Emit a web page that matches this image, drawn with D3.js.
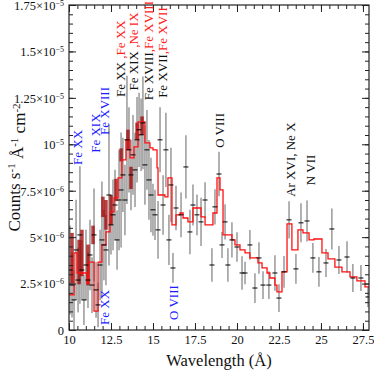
<!DOCTYPE html>
<html>
<head>
<meta charset="utf-8">
<script src="https://cdn.jsdelivr.net/npm/d3@7"></script>
<style>
  body { margin: 0; background: #fff; }
  svg text { font-family: "Liberation Serif", "Times New Roman", serif; }
</style>
</head>
<body>
<div id="chart"></div>
<script>
// Data (flux in units of 1e-6 counts s-1 A-1 cm-2)
const wl = [10.06, 10.18, 10.30, 10.42, 10.54, 10.65, 10.77, 10.89, 11.01, 11.13, 11.25, 11.37, 11.49, 11.61, 11.73,
  11.85, 11.96, 12.08, 12.20, 12.38, 12.50, 12.62, 12.74, 12.86, 12.98, 13.10, 13.21, 13.33, 13.45, 13.57, 13.69,
  13.81, 13.93, 14.05, 14.17, 14.29, 14.40, 14.52, 14.64, 14.76, 14.88, 15.00,
  15.12, 15.30, 15.42, 15.60, 15.77, 15.95, 16.07, 16.19, 16.37, 16.67, 16.96, 17.20, 17.38, 17.62, 17.86, 18.10,
  18.51, 18.69, 18.93, 19.11, 19.29, 19.46, 19.70, 20.00, 20.30, 20.48, 20.77, 21.07, 21.31, 21.55, 21.90, 22.26,
  22.50, 22.80, 23.10, 23.51, 23.81, 24.17, 24.52, 24.88, 25.30, 25.65, 26.07, 26.55, 26.90, 27.38, 27.80];
const flux = [3.23, 2.42, 1.62, 4.31, 2.69, 5.12, 3.23, 1.62, 3.50, 2.69, 4.04, 2.42, 5.12, 2.16, 1.35,
  3.50, 4.85, 4.58, 4.31, 7.27, 5.66, 6.20, 6.73, 4.85, 7.00, 7.54, 8.35, 7.00, 10.24, 9.70, 8.35,
  9.43, 8.62, 10.24, 10.78, 10.51, 11.15, 8.89, 9.70, 8.08, 7.27, 6.47,
  6.20, 5.39, 10.24, 6.73, 9.70, 4.85, 7.81, 3.34, 6.57, 6.20, 8.78, 5.28, 6.73, 6.20, 5.82, 7.00,
  3.50, 6.63, 8.40, 4.58, 5.82, 3.50, 4.85, 4.47, 3.07, 3.07, 4.58, 2.26, 3.88, 2.42, 2.42, 3.07,
  1.72, 3.13, 5.93, 3.29, 5.77, 5.87, 3.88, 3.13, 3.61, 5.44, 3.77, 3.93, 2.80, 2.80, 1.78];
const err = [2.4, 1.75, 1.6, 2.7, 1.75, 3.7, 1.6, 1.35, 1.9, 1.5, 1.9, 1.5, 2.5, 1.5, 1.2,
  1.9, 3.15, 1.9, 1.9, 3.8, 1.6, 1.9, 1.9, 1.6, 2.7, 3.1, 2.0, 1.9, 3.45, 2.3, 1.9,
  2.15, 2.0, 2.3, 2.0, 1.95, 2.5, 2.15, 2.15, 2.15, 2.0, 1.4,
  1.35, 1.55, 1.75, 1.6, 2.0, 1.35, 2.0, 0.8, 1.2, 1.2, 1.7, 1.2, 1.1, 1.1, 1.3, 0.95,
  0.9, 0.95, 1.2, 0.7, 0.95, 0.9, 0.95, 0.8, 0.9, 0.6, 0.8, 0.8, 0.85, 0.75, 0.75, 0.95,
  0.75, 0.85, 1.0, 0.8, 1.05, 1.1, 0.8, 0.8, 0.75, 1.1, 0.75, 0.85, 0.75, 0.7, 0.55];

// second (high resolution) spectrum, drawn as thick dark red bars
const wl2 = [10.18, 10.60, 10.77, 11.13, 11.43, 12.02, 12.20, 12.50, 12.80, 13.10, 13.51, 13.69, 14.05, 14.35];
const flux2 = [3.88, 3.66, 4.15, 3.50, 5.12, 6.63, 6.20, 6.47, 7.54, 9.43, 10.24, 8.19, 10.72, 11.0];
const err2 = [1.35, 1.2, 1.25, 1.1, 0.5, 0.55, 0.8, 0.8, 0.6, 0.35, 0.55, 0.6, 0.45, 0.5];

// model step line: bin edges and values
const modelEdges = [10.0, 10.30, 10.48, 11.07, 11.19, 11.49, 11.73, 11.96, 12.20, 12.44, 12.68, 12.92, 13.15, 13.39,
  13.63, 13.87, 14.11, 14.52, 14.82, 15.0, 15.24, 15.30, 15.71, 15.89, 16.13, 16.37, 16.61, 16.79, 17.08, 17.38,
  17.62, 17.86, 18.10, 18.57, 18.81, 18.99, 19.17, 19.70, 19.88, 20.18, 20.48, 20.77, 21.25, 21.49, 21.79, 21.96,
  22.26, 22.38, 22.68, 22.98, 23.27, 23.63, 23.93, 24.29, 24.58, 25.06, 25.42, 25.83, 26.25, 26.73, 27.14, 27.62, 27.86];
const modelFlux = [1.89, 4.15, 3.07, 2.53, 3.66, 1.02, 3.66, 4.58, 5.28, 6.36, 7.11, 8.19, 9.16, 10.24,
  9.27, 9.86, 11.21, 10.08, 9.81, 9.70, 8.73, 7.27, 7.17, 8.19, 5.66, 6.20, 6.30, 6.03, 5.82,
  6.57, 6.57, 6.09, 5.66, 6.30, 8.19, 7.54, 5.12, 4.85, 4.58, 4.31, 4.15, 3.88, 3.61, 3.34, 3.07,
  2.80, 2.42, 2.05, 3.13, 5.71, 4.31, 5.39, 5.23, 4.85, 4.90, 4.15, 3.83, 3.39, 3.13, 2.86, 2.64, 2.32];

// line identifications
const labelText = [
  [["Fe XX", "blue"]],
  [["Fe XIX", "blue"]],
  [["Fe XVIII", "blue"]],
  [["Fe XX ", "black"], [",Fe XX", "red"]],
  [["Fe XIX ", "black"], [",Ne IX", "red"]],
  [["Fe XVIII", "black"], [",Fe XVIII", "red"]],
  [["Fe XVII", "black"], [",Fe XVII", "red"]],
  [["Fe XX", "blue"]],
  [["O VIII", "blue"]],
  [["O VIII", "black"]],
  [["Ar XVI, Ne X", "black"]],
  [["N VII", "black"]]
];
const labelWl = [10.48, 11.55, 12.1, 13.04, 13.81, 14.70, 15.54, 12.08, 16.19, 18.93, 23.21, 24.40];
const labelFlux = [8.89, 9.54, 10.5, 12.55, 12.9, 12.37, 12.5, 0.27, 0.54, 9.81, 7.17, 7.8];

// axes ticks
const xTicks = [10, 12.5, 15, 17.5, 20, 22.5, 25, 27.5];
const yTicks = [0, 2.5, 5, 7.5, 10, 12.5, 15, 17.5];
const yTickMant = ["0", "2.5×10", "5×10", "7.5×10", "10", "1.25×10", "1.5×10", "1.75×10"];
const yTickExp = ["", "−6", "−6", "−6", "−5", "−5", "−5", "−5"];

// --- Chart ---
const W = 374, H = 374;
const margin = { top: 5, right: 5, bottom: 44, left: 69 };
const colors = { blue: "#1c1cff", red: "#ff1c1c", black: "#111" };

const svg = d3.select("#chart").append("svg")
  .attr("width", W).attr("height", H);

const x = d3.scaleLinear().domain([10, 27.86]).range([margin.left, W - margin.right]);
const y = d3.scaleLinear().domain([0, 17.5]).range([H - margin.bottom, margin.top]);

const plot = svg.append("g");
plot.append("clipPath").attr("id", "clip").append("rect")
  .attr("x", x.range()[0]).attr("y", y.range()[1])
  .attr("width", x.range()[1] - x.range()[0]).attr("height", y.range()[0] - y.range()[1]);
const inner = plot.append("g").attr("clip-path", "url(#clip)");

// gray error bars
const pts = wl.map((d, i) => ({ wl: d, f: flux[i], e: err[i] }));
inner.selectAll(".eb").data(pts).enter().append("line")
  .attr("x1", d => x(d.wl)).attr("x2", d => x(d.wl))
  .attr("y1", d => y(d.f - d.e)).attr("y2", d => y(d.f + d.e))
  .attr("stroke", "#444").attr("stroke-opacity", 0.55).attr("stroke-width", 1.5);

// dark red thick bars
const pts2 = wl2.map((d, i) => ({ wl: d, f: flux2[i], e: err2[i] }));
inner.selectAll(".eb2").data(pts2).enter().append("line")
  .attr("x1", d => x(d.wl)).attr("x2", d => x(d.wl))
  .attr("y1", d => y(d.f - d.e)).attr("y2", d => y(d.f + d.e))
  .attr("stroke", "#a00000").attr("stroke-opacity", 0.75).attr("stroke-width", 3.5);

// model
const stepPts = modelFlux.map((v, i) => [modelEdges[i], v]);
stepPts.push([modelEdges[modelEdges.length - 1], modelFlux[modelFlux.length - 1]]);
const line = d3.line().x(d => x(d[0])).y(d => y(d[1])).curve(d3.curveStepAfter);
inner.append("path").attr("d", line(stepPts))
  .attr("fill", "none").attr("stroke", "#ff1010").attr("stroke-width", 1.3);

// data point marks
inner.selectAll(".pt").data(pts).enter().append("line")
  .attr("x1", d => x(d.wl) - 2.5).attr("x2", d => x(d.wl) + 2.5)
  .attr("y1", d => y(d.f)).attr("y2", d => y(d.f))
  .attr("stroke", "#000").attr("stroke-width", 1);

// axes with inward ticks
const xMinor = d3.range(10, 27.86, 0.5);
const yMinor = d3.range(0, 17.51, 0.5);
const y0 = y(0), yTop = y(17.5), xL = x.range()[0], xR = x.range()[1];

function styleAxis(g) {
  g.select(".domain").remove();
  g.selectAll(".tick line").attr("stroke", "#222").attr("stroke-width", 1);
}

svg.append("g").attr("transform", `translate(0,${y0})`)
  .call(d3.axisBottom(x).tickValues(xMinor).tickSize(-4).tickFormat("")).call(styleAxis);
svg.append("g").attr("transform", `translate(0,${y0})`)
  .call(d3.axisBottom(x).tickValues(xTicks).tickSize(-7).tickPadding(5).tickFormat(d => d))
  .call(styleAxis)
  .selectAll("text").attr("font-size", 12.5).attr("fill", "#111");
svg.append("g").attr("transform", `translate(0,${yTop})`)
  .call(d3.axisTop(x).tickValues(xMinor).tickSize(-4).tickFormat("")).call(styleAxis);
svg.append("g").attr("transform", `translate(0,${yTop})`)
  .call(d3.axisTop(x).tickValues(xTicks).tickSize(-7).tickFormat("")).call(styleAxis);

svg.append("g").attr("transform", `translate(${xL},0)`)
  .call(d3.axisLeft(y).tickValues(yMinor).tickSize(-4).tickFormat("")).call(styleAxis);
const yAx = svg.append("g").attr("transform", `translate(${xL},0)`)
  .call(d3.axisLeft(y).tickValues(yTicks).tickSize(-7).tickPadding(5).tickFormat(""))
  .call(styleAxis);
yAx.selectAll(".tick").each(function(d, i) {
  const t = d3.select(this).append("text")
    .attr("x", -5).attr("dy", "0.35em").attr("text-anchor", "end")
    .attr("font-size", 12.5).attr("fill", "#111");
  t.append("tspan").text(yTickMant[i]);
  if (yTickExp[i]) t.append("tspan").attr("dy", "-0.5em").attr("font-size", 8).text(yTickExp[i]);
});
svg.append("g").attr("transform", `translate(${xR},0)`)
  .call(d3.axisRight(y).tickValues(yMinor).tickSize(-4).tickFormat("")).call(styleAxis);
svg.append("g").attr("transform", `translate(${xR},0)`)
  .call(d3.axisRight(y).tickValues(yTicks).tickSize(-7).tickFormat("")).call(styleAxis);

// frame
svg.append("rect").attr("x", xL).attr("y", yTop).attr("width", xR - xL).attr("height", y0 - yTop)
  .attr("fill", "none").attr("stroke", "#222").attr("stroke-width", 1.2);

// axis titles
svg.append("text").attr("x", (xL + xR) / 2).attr("y", 366).attr("text-anchor", "middle")
  .attr("font-size", 16.5).attr("fill", "#111").text("Wavelength (Å)");
const yt = svg.append("text").attr("transform", `translate(20,${(y0 + yTop) / 2}) rotate(-90)`)
  .attr("text-anchor", "middle").attr("font-size", 17).attr("fill", "#111");
yt.append("tspan").text("Counts s");
yt.append("tspan").attr("dy", "-0.45em").attr("font-size", 11).text("-1");
yt.append("tspan").attr("dy", "0.45em").text(" Å");
yt.append("tspan").attr("dy", "-0.45em").attr("font-size", 11).text("-1");
yt.append("tspan").attr("dy", "0.45em").text(" cm");
yt.append("tspan").attr("dy", "-0.45em").attr("font-size", 11).text("-2");

// line labels
labelText.forEach((parts, i) => {
  const t = svg.append("text")
    .attr("transform", `translate(${x(labelWl[i])},${y(labelFlux[i])}) rotate(-90)`)
    .attr("dy", "0.35em").attr("font-size", 13);
  parts.forEach(p => t.append("tspan").attr("fill", colors[p[1]]).text(p[0]));
});
</script>
</body>
</html>
